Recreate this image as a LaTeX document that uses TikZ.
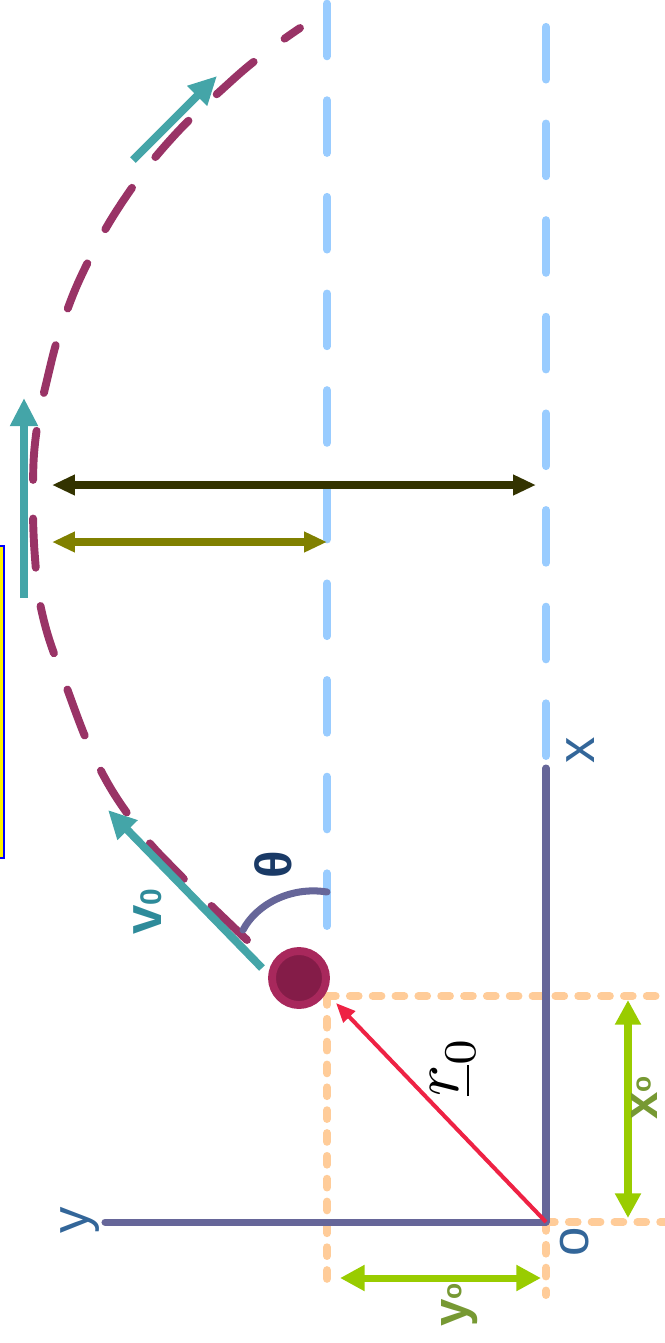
\documentclass[tikz,border=0pt]{standalone}
\usepackage{fontspec}
\setmainfont{Liberation Sans}
\usetikzlibrary{arrows.meta}
\definecolor{guideblue}{HTML}{99CCFF}
\definecolor{axisgray}{HTML}{666699}
\definecolor{labelblue}{HTML}{336699}
\definecolor{dotorange}{HTML}{FFCC99}
\definecolor{ballfill}{HTML}{841C48}
\definecolor{ballring}{HTML}{A8285C}
\definecolor{rvec}{HTML}{EE2244}
\definecolor{offgreen}{HTML}{99CC00}
\definecolor{offlabel}{HTML}{779933}
\definecolor{velteal}{HTML}{44A5A8}
\definecolor{vellabel}{HTML}{2E8B9A}
\definecolor{thetablue}{HTML}{1A3A66}
\definecolor{pathred}{HTML}{993366}
\definecolor{darkspan}{HTML}{333300}
\definecolor{olivespan}{HTML}{808000}
\tikzset{
  guide/.style={guideblue, line width=4.5pt, line cap=round, dash pattern=on 30pt off 25pt},
  dotline/.style={dotorange, line width=4.5pt, line cap=round, dash pattern=on 5pt off 8pt},
  axisline/.style={axisgray, line width=4pt, line cap=round},
  offarrow/.style={offgreen, line width=4pt, {Triangle[length=14pt,width=14pt]}-{Triangle[length=14pt,width=14pt]}},
  spanarrow/.style={line width=4pt, {Triangle[length=13pt,width=11pt]}-{Triangle[length=13pt,width=11pt]}},
  velarrow/.style={velteal, line width=4.5pt, -{Triangle[length=16pt,width=15pt]}},
  trajectory/.style={pathred, line width=4.5pt, line cap=round, dash pattern=on 28pt off 22pt},
  axislabel/.style={labelblue, font=\fontsize{30}{32}\selectfont, rotate=90, inner sep=0pt},
  offlabeltext/.style={offlabel, font=\fontsize{28}{30}\selectfont\bfseries, rotate=90, inner sep=0pt}
}
\begin{document}
\begin{tikzpicture}[x=0.02cm, y=-0.02cm]
\useasboundingbox (0,0) rectangle (665,1343);

% key points
\coordinate (O) at (546,1222);
\coordinate (xend) at (546,768);
\coordinate (yend) at (105,1222);
\coordinate (corner) at (327,996);

% side panel
\draw[blue, fill=yellow, line width=0.8pt] (-10,546) rectangle (4,858);

% vertical guides
\coordinate (ga) at (327,926);
\coordinate (gb) at (327,-10);
\coordinate (gc) at (546,756);
\coordinate (gd) at (546,14);
\draw[guide] (ga) -- (gb);
\draw[guide] (gc) -- (gd);

% projections of the start point
\coordinate (pa) at (665,996);
\coordinate (pb) at (327,1290);
\coordinate (pc) at (665,1222);
\coordinate (pd) at (546,1295);
\draw[dotline] (corner) -- (pa);
\draw[dotline] (corner) -- (pb);
\draw[dotline] (O) -- (pc);
\draw[dotline] (O) -- (pd);

% axes
\draw[axisline] (O) -- (xend);
\draw[axisline] (O) -- (yend);
\node[axislabel] (xlab) at (581,750) {x};
\node[axislabel] (ylab) at (80,1220) {y};
\node[axislabel] (olab) at (575,1242) {o};

% position vector
\coordinate (rtip) at (336,1003);
\draw[rvec, line width=2.3pt, -{Triangle[length=11pt,width=9pt]}] (O) -- (rtip);
\node[scale=3.7, rotate=90] (rlab) at (453,1066) {$\underline{r}_0$};

% offsets
\coordinate (xa) at (628,1000);
\coordinate (xb) at (628,1218);
\coordinate (ya) at (340,1278);
\coordinate (yb) at (541,1278);
\draw[offarrow] (xa) -- (xb);
\draw[offarrow] (ya) -- (yb);
\node[offlabeltext] (x0lab) at (644,1098) {x\raisebox{.25ex}{\fontsize{15}{15}\selectfont o}};
\node[offlabeltext] (y0lab) at (460,1305) {y\raisebox{.25ex}{\fontsize{15}{15}\selectfont o}};

% path of the ball
\draw[trajectory] plot[smooth, tension=0.7] coordinates {(247,940) (177,872) (138,828) (98,765) (65,683) (43,617) (35,558) (33,490) (36,435) (47,380) (63,322) (88,262) (125,198) (172,138) (228,84) (265,53) (300,28)};

% ball
\node[circle, draw=ballring, fill=ballfill, line width=4.5pt, minimum size=1.08cm, inner sep=0pt] (ball) at (299,978) {};

% launch angle
\coordinate (ta) at (243,930);
\coordinate (tb) at (327,892);
\draw[axisgray, line width=4pt, line cap=round] (ta) .. controls (256,905) and (290,886) .. (tb);
\node[thetablue, font=\fontsize{29}{30}\selectfont\bfseries, rotate=90] (thlab) at (273,865) {θ};

% velocities
\coordinate (va) at (262,968);
\coordinate (vb) at (108,810);
\draw[velarrow] (va) -- (vb);
\node[vellabel, font=\fontsize{30}{32}\selectfont\bfseries, rotate=90, inner sep=0pt] (vlab) at (148,912) {v{\fontsize{17}{17}\selectfont 0}};
\coordinate (vc) at (133,160);
\coordinate (vd) at (217,76);
\draw[velarrow] (vc) -- (vd);
\coordinate (ve) at (24,598);
\coordinate (vf) at (24,398);
\draw[velarrow] (ve) -- (vf);

% spans
\coordinate (sa) at (52,485);
\coordinate (sb) at (536,485);
\coordinate (sc) at (52,542);
\coordinate (sd) at (327,542);
\draw[spanarrow, darkspan] (sa) -- (sb);
\draw[spanarrow, olivespan] (sc) -- (sd);
\end{tikzpicture}
\end{document}
